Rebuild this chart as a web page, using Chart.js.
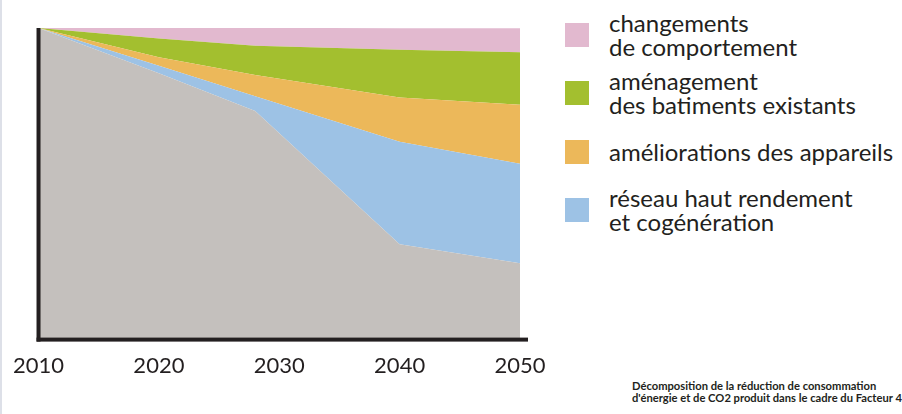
<!DOCTYPE html><html lang="fr">
<head>
<meta charset="UTF-8">
<title>Facteur 4</title>
<script src="https://cdn.jsdelivr.net/npm/chart.js"></script>
<style>
    html, body { margin: 0; padding: 0; background: #fff; }
    body { width: 902px; height: 414px; position: relative; overflow: hidden; font-family: Lato, "Open Sans", sans-serif; color: #231f20; }
    #edge { position: absolute; left: 0; top: 0; width: 2px; height: 414px; background: #dde0e8; }
    #wrap { position: absolute; left: 0; top: 0; width: 560px; height: 414px; }
    #legend { position: absolute; left: 565px; top: 6px; }
    .item { display: flex; align-items: center; height: 58.3px; }
    .box { width: 24px; height: 24px; margin-right: 20px; flex: none; }
    .txt { font-size: 24px; line-height: 24px; }
    #caption { position: absolute; left: 632px; top: 380px; font-size: 11.2px; line-height: 12px; font-weight: 700; white-space: nowrap; }
</style>
</head>
<body>
<div id="edge"></div>
<div id="wrap"><canvas id="chart"></canvas></div>
<div id="legend"></div>
<div id="caption">Décomposition de la réduction de consommation<br>d'énergie et de CO2 produit dans le cadre du Facteur 4</div>
<script>
// years where the curves bend
const years = [2010, 2020, 2028, 2040, 2050];
const xTicks = [2010, 2020, 2030, 2040, 2050];

// share of initial consumption (stacked, bottom to top)
const remaining   = [100, 85.5, 73.4, 30.6, 24.5];
const reseau      = [0, 2.4, 4.7, 32.9, 31.9];
const appareils   = [0, 2.7, 6.8, 14.2, 19.0];
const batiments   = [0, 6.0, 9.4, 15.3, 16.8];
const comportement = [0, 3.4, 5.8, 6.9, 7.7];

const legendLabels = [
    ["changements", "de comportement"],
    ["aménagement", "des batiments existants"],
    ["améliorations des appareils"],
    ["réseau haut rendement", "et cogénération"]
];
const colors = {
    remaining: "#c4c0bd",
    reseau: "#9dc2e5",
    appareils: "#ecb85a",
    batiments: "#a3bf2f",
    comportement: "#e2b9cf"
};

function pts(values) {
    return values.map((v, i) => ({ x: years[i], y: v }));
}

function area(label, values, color, fill) {
    return {
        label: label,
        data: pts(values),
        backgroundColor: color,
        borderWidth: 0,
        pointRadius: 0,
        tension: 0,
        fill: fill
    };
}

// the two black axis bars of the original
const axisBars = {
    id: "axisBars",
    afterDatasetsDraw(chart) {
        const { ctx, chartArea: a } = chart;
        ctx.save();
        ctx.fillStyle = "#231f20";
        ctx.fillRect(a.left - 2, a.top, 4, a.bottom - a.top + 2);
        ctx.fillRect(a.left - 2, a.bottom - 2, a.right - a.left + 10, 4);
        ctx.restore();
    }
};

const chart = new Chart(document.getElementById("chart"), {
    type: "line",
    data: {
        datasets: [
            area("", remaining, colors.remaining, "origin"),
            area(legendLabels[3].join(" "), reseau, colors.reseau, "-1"),
            area(legendLabels[2].join(" "), appareils, colors.appareils, "-1"),
            area(legendLabels[1].join(" "), batiments, colors.batiments, "-1"),
            area(legendLabels[0].join(" "), comportement, colors.comportement, "-1")
        ]
    },
    options: {
        responsive: true,
        maintainAspectRatio: false,
        animation: false,
        layout: { padding: { left: 35, top: 28, right: 40, bottom: 22 } },
        plugins: { legend: { display: false }, tooltip: { enabled: false } },
        scales: {
            x: {
                type: "linear",
                min: 2010,
                max: 2050,
                afterBuildTicks: axis => { axis.ticks = xTicks.map(v => ({ value: v })); },
                grid: { display: false, drawTicks: false, tickLength: 0 },
                border: { display: false },
                ticks: {
                    padding: 13,
                    color: "#231f20",
                    font: { family: "Lato", size: 22 },
                    maxRotation: 0,
                    callback: v => String(v)
                }
            },
            y: {
                display: false,
                stacked: true,
                min: 0,
                max: 100
            }
        }
    },
    plugins: [axisBars]
});

// html legend, top to bottom
const legend = document.getElementById("legend");
const legendColors = [colors.comportement, colors.batiments, colors.appareils, colors.reseau];
legendLabels.forEach((lines, i) => {
    const item = document.createElement("div");
    item.className = "item";
    item.innerHTML = `<div class="box" style="background:${legendColors[i]}"></div><div class="txt">${lines.join("<br>")}</div>`;
    legend.appendChild(item);
});
</script>
</body>
</html>
